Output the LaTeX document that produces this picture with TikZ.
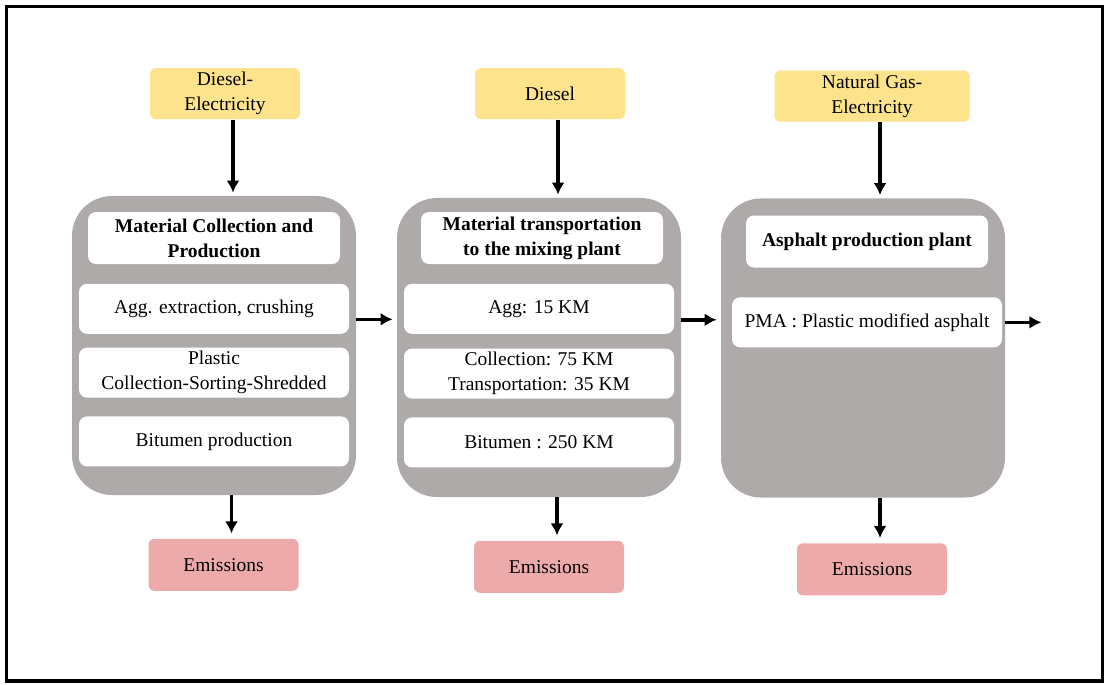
\documentclass[tikz,border=0pt]{standalone}
\usepackage{fontspec}
\setmainfont{Liberation Serif}
\usepackage{xcolor}
\usepackage{tikz}
\usetikzlibrary{arrows.meta,positioning}
\definecolor{fuelyellow}{HTML}{FDE38C}
\definecolor{emisred}{HTML}{ECAAAA}
\definecolor{procgrey}{HTML}{AEAAAA}

\begin{document}
\begin{tikzpicture}[node distance=8pt, font=\fontsize{9.75}{12.5}\selectfont,
 fuel/.style={fill=fuelyellow,rounded corners=3pt,align=center,minimum width=75pt,minimum height=25.5pt,inner sep=1pt},
 emis/.style={fill=emisred,rounded corners=3pt,align=center,minimum width=75pt,minimum height=26pt,inner sep=1pt},
 proc/.style={fill=procgrey,rounded corners=20pt,minimum width=142pt,minimum height=149.5pt},
 head/.style={fill=white,rounded corners=4pt,align=center,minimum width=121pt,minimum height=26pt,inner sep=1pt,font=\fontsize{9.75}{12.5}\selectfont\bfseries},
 item/.style={fill=white,rounded corners=4pt,align=center,minimum width=135pt,minimum height=25pt,inner sep=1pt},
 a/.style={-{Latex[length=6pt,width=6.5pt]},line width=1.8pt}]
\useasboundingbox (0,0) rectangle (553pt,-342pt);
\draw[line width=1.8pt] (3.2pt,-3.2pt) rectangle (551.3pt,-340.5pt);

% the three stages
\node[proc] (proc1) at (107pt,-172.75pt) {};
\node[proc] (proc2) at (269.5pt,-173.75pt) {};
\node[proc] (proc3) at (431.5pt,-174pt) {};

\node[head,minimum width=126pt,below=8pt of proc1.north] (head1) {Material Collection and\\Production};
\node[item,below=9.5pt of head1] (agg1) {Agg. extraction, crushing};
\node[item,below=6.5pt of agg1] (plastic1) {Plastic\\Collection-Sorting-Shredded};
\node[item,below=9pt of plastic1] (bitumen1) {Bitumen production};

\node[head,below=7pt of proc2.north,xshift=1.5pt] (head2) {Material transportation\\to the mixing plant};
\node[item,below=9.5pt of head2,xshift=-1.5pt] (agg2) {Agg: 15 KM};
\node[item,below=7pt of agg2] (plastic2) {Collection: 75 KM\\Transportation: 35 KM};
\node[item,below=9pt of plastic2] (bitumen2) {Bitumen : 250 KM};

\node[head,below=8.5pt of proc3.north,xshift=2pt] (head3) {Asphalt production plant};
\node[item,below=14.5pt of head3] (pma) {PMA : Plastic modified asphalt};

% energy in, emissions out
\node[fuel,above=38pt of proc1.north,xshift=5.5pt] (fuel1) {Diesel-\\Electricity};
\node[fuel,above=39pt of proc2.north,xshift=5.5pt] (fuel2) {Diesel};
\node[fuel,minimum width=97.5pt,above=38pt of proc3.north,xshift=4.5pt] (fuel3) {Natural Gas-\\Electricity};

\node[emis,below=21.5pt of proc1.south,xshift=4.75pt] (emis1) {Emissions};
\node[emis,below=21.5pt of proc2.south,xshift=5pt] (emis2) {Emissions};
\node[emis,below=22.5pt of proc3.south,xshift=4.5pt] (emis3) {Emissions};

\foreach \i in {1,2,3}{
 \draw[a,shorten >=1.5pt] ([xshift=4pt]fuel\i.south) -- ([xshift=4pt]fuel\i.south |- proc\i.north);
 \draw[a,shorten >=2.5pt] ([xshift=4pt]emis\i.north |- proc\i.south) -- ([xshift=4pt]emis\i.north);
}

\draw[a,shorten >=2pt] ([yshift=-5.25pt]agg1.east -| proc1.east) -- ([yshift=-5.25pt]agg1.east -| proc2.west);
\draw[a,shorten >=2pt] ([yshift=-5.5pt]agg2.east -| proc2.east) -- ([yshift=-5.5pt]agg2.east -| proc3.west);
\coordinate (out) at ([xshift=18pt]pma.east -| proc3.east);
\draw[a] (pma.east -| proc3.east) -- (out);
\end{tikzpicture}
\end{document}
